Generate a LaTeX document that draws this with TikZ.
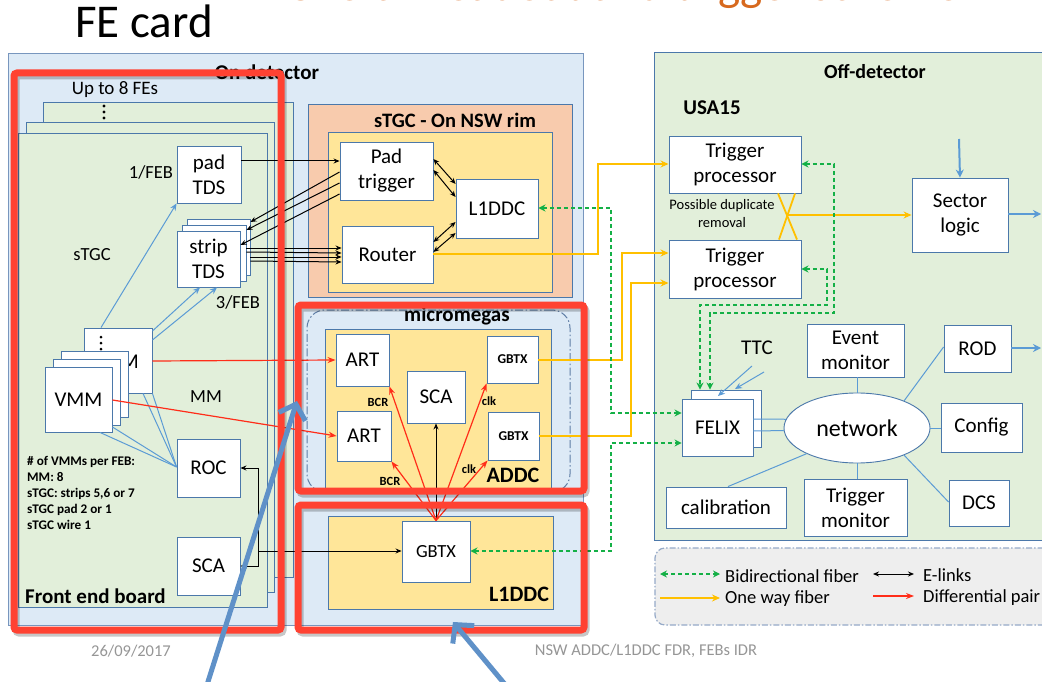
\documentclass[tikz,border=0pt]{standalone}
\usepackage{fontspec}
\setmainfont{Carlito}
\usetikzlibrary{arrows.meta,shapes.geometric,calc}
\definecolor{onbg}{RGB}{221,234,246}
\definecolor{onb}{RGB}{120,150,190}
\definecolor{grbg}{RGB}{226,239,218}
\definecolor{boxb}{RGB}{75,120,170}
\definecolor{salmon}{RGB}{248,203,173}
\definecolor{ybox}{RGB}{255,230,153}
\definecolor{yel}{RGB}{255,192,0}
\definecolor{grn}{RGB}{20,176,70}
\definecolor{dred}{RGB}{255,45,25}
\definecolor{rframe}{RGB}{255,66,50}
\definecolor{lblue}{RGB}{91,155,213}
\definecolor{barrow}{RGB}{95,145,200}
\definecolor{lgf}{RGB}{238,238,238}
\definecolor{lgb}{RGB}{150,170,200}
\definecolor{mmb}{RGB}{95,125,165}
\definecolor{orng}{RGB}{215,105,30}
\definecolor{foot}{RGB}{150,150,150}
\newcommand\fsz[2]{\fontsize{#1}{#2}\selectfont}
\newcommand\bx[7][]{\node[#2,minimum width={#5-#3},minimum height={#6-#4},#1] (#7) at ({(#3+#5)/2},{(#4+#6)/2})}
\tikzset{
  wbox/.style={draw=boxb, fill=white, line width=0.9pt, inner sep=0pt, align=center, font=\fsz{21}{25}},
  region/.style={draw=boxb, line width=0.8pt, inner sep=0pt},
  txt/.style={inner sep=0pt, align=center},
  elink/.style={draw=black, line width=1pt, -{Stealth[length=6pt,width=5pt]}},
  elinkb/.style={draw=black, line width=1pt, {Stealth[length=6pt,width=5pt]}-{Stealth[length=6pt,width=5pt]}},
  dpair/.style={draw=dred, line width=1.2pt, -{Stealth[length=8pt,width=6pt]}},
  yfib/.style={draw=yel, line width=1.8pt, -{Stealth[length=8pt,width=7pt]}},
  yline/.style={draw=yel, line width=1.8pt},
  gfib/.style={draw=grn, line width=1.6pt, dash pattern=on 4pt off 3pt, {Stealth[length=7pt,width=7pt]}-{Stealth[length=7pt,width=7pt]}},
  thinb/.style={draw=lblue, line width=1pt},
  thinba/.style={thinb, -{Stealth[length=7pt,width=6pt]}},
  blarrow/.style={draw=lblue, line width=2pt, -{Stealth[length=8pt,width=8pt]}},
  redframe/.style={draw=rframe, line width=7pt, rounded corners=3pt},
  shadowframe/.style={draw=black, opacity=0.22, line width=7pt, rounded corners=3pt},
  bigarrow/.style={draw=barrow, line width=5pt, -{Straight Barb[length=13pt,width=28pt]}},
  mmframe/.style={draw=mmb, line width=1pt, dash pattern=on 8pt off 2.5pt on 1.5pt off 2.5pt, rounded corners=18pt, inner sep=0pt},
  legendbox/.style={draw=lgb, fill=lgf, line width=1.2pt, dash pattern=on 6pt off 2pt on 1.5pt off 2pt, rounded corners=10pt, inner sep=0pt},
}
\begin{document}
\begin{tikzpicture}[x=1pt,y=-1pt]
\useasboundingbox (0,0) rectangle (1042,682);
\fill[white] (0,0) rectangle (1042,682);

% ---------- titles ----------
\node[anchor=base west, font=\fsz{47}{50}, text=orng, inner sep=0pt] (title) at (285,1) {Overall readout and trigger scheme};
\node[anchor=base west, font=\fsz{47}{50}, inner sep=0pt] (fecard) at (75,38) {FE card};

% ---------- backgrounds ----------
\bx{region,fill=onbg,draw=onb}{8}{53}{583}{625}{ondet}{};
\bx{region,fill=grbg}{654}{52}{1060}{540}{offdet}{};
\bx{legendbox}{655}{548}{1065}{625}{legend}{};
\node[txt,font=\bfseries\fsz{21}{24}] (ondetlbl) at (267,72) {On detector};
\node[txt,font=\bfseries\fsz{20}{24}] (offlbl) at (875,72) {Off-detector};
\node[txt,font=\bfseries\fsz{21}{24}] (usa) at (712,108) {USA15};

% ---------- FE boards ----------
\node[txt,font=\fsz{19}{22}] (upto) at (115,90) {Up to 8 FEs};
\bx{region,fill=grbg}{43}{102}{293}{577}{feb3}{};
\foreach \yy in {106,112,118} \fill (104,\yy) circle[radius=1.6pt];
\bx{region,fill=grbg}{26}{122}{274}{592}{feb2}{};
\bx{region,fill=grbg}{18}{133}{267}{607}{feb1}{};

\node[txt,font=\fsz{18.5}{20}] (onefeb) at (151,172) {1/FEB};
\bx{wbox}{177}{146}{241}{203}{padtds}{pad\\TDS};
\bx{wbox}{187}{219}{250}{275}{strip3}{};
\bx{wbox}{182}{225}{246}{281}{strip2}{};
\bx{wbox}{177}{231}{240}{287}{strip1}{strip\\TDS};
\node[txt,font=\fsz{18.5}{20}] (stgclbl) at (92,255) {sTGC};
\node[txt,font=\fsz{18.5}{20}] (threefeb) at (238,302) {3/FEB};

\bx{wbox}{84}{328}{152}{393}{vmmS}{};
\node[txt,font=\fsz{21}{24}] (vmmStxt) at (115,362) {VMM};
\foreach \yy in {337,343,349} \fill (101,\yy) circle[radius=1.5pt];
\bx{wbox}{61}{351}{128}{417}{vmmB}{};
\bx{wbox}{53}{359}{120}{425}{vmmA}{};
\bx{wbox}{45}{367}{112}{432}{vmm1}{VMM};
\node[txt,font=\fsz{18.5}{20}] (mmlbl2) at (206,397) {MM};
\bx{wbox}{177}{439}{240}{497}{roc}{ROC};
\bx{wbox}{177}{537}{240}{595}{sca1}{SCA};
\node[anchor=north west, align=left, inner sep=0pt, font=\bfseries\fsz{13.2}{16}] (vmmnote) at (27,456) {\# of VMMs per FEB:\\MM: 8\\sTGC: strips 5,6 or 7\\sTGC pad 2 or 1\\sTGC wire 1};
\node[anchor=west, inner sep=0pt, font=\bfseries\fsz{21}{24}] (feblbl) at (25,596) {Front end board};

% ---------- sTGC rim ----------
\bx{region,fill=salmon}{308}{104}{572}{297}{rim}{};
\node[txt,font=\bfseries\fsz{20.5}{24}] (rimlbl) at (455,120) {sTGC - On NSW rim};
\bx{region,fill=ybox}{328}{132}{552}{292}{rimy}{};
\bx{wbox}{340}{142}{433}{200}{padtrig}{Pad\\trigger};
\bx{wbox}{342}{226}{433}{283}{router}{Router};
\bx{wbox}{456}{179}{538}{238}{l1a}{L1DDC};

% ---------- micromegas ----------
\bx{mmframe}{307}{310}{570}{492}{mmf}{};
\node[txt,font=\bfseries\fsz{21}{24}] (mmlbl) at (457,316) {micromegas};
\bx{region,fill=ybox}{325}{329}{551}{489}{addc}{};
\bx{wbox}{336}{334}{389}{386}{art1}{ART};
\bx{wbox}{337}{411}{391}{461}{art2}{ART};
\bx{wbox}{407}{371}{465}{423}{sca2}{SCA};
\bx{wbox,font=\bfseries\fsz{13.5}{15}}{487}{336}{538}{383}{gbtx1}{GBTX};
\bx{wbox,font=\bfseries\fsz{13.5}{15}}{488}{412}{539}{460}{gbtx2}{GBTX};
\node[txt,font=\bfseries\fsz{22}{24}] (addclbl) at (513,475) {ADDC};
\node[txt,font=\bfseries\fsz{12.5}{14}] (bcr1) at (378,402) {BCR};
\node[txt,font=\bfseries\fsz{12.5}{14}] (bcr2) at (390,481) {BCR};
\node[txt,font=\bfseries\fsz{12.5}{14}] (clk1) at (489,401) {clk};
\node[txt,font=\bfseries\fsz{12.5}{14}] (clk2) at (469,469) {clk};

% ---------- L1DDC ----------
\bx{region,fill=ybox}{328}{516}{553}{609}{l1y}{};
\bx{wbox,font=\fsz{18.5}{20}}{402}{521}{470}{582}{gbtx3}{GBTX};
\node[txt,font=\bfseries\fsz{22}{24}] (l1lbl) at (519,594) {L1DDC};

% ---------- off detector ----------
\bx{wbox}{669}{136}{801}{193}{tp1}{Trigger\\processor};
\bx{wbox}{669}{240}{801}{298}{tp2}{Trigger\\processor};
\bx{wbox}{912}{178}{1008}{252}{sector}{Sector\\logic};
\node[txt,font=\fsz{14.5}{18}] (dup) at (722,214) {Possible duplicate\\removal};
\node[txt,font=\fsz{21}{24}] (ttc) at (757,348) {TTC};

\bx{wbox}{691}{390}{761}{447}{felixb}{};
\bx{wbox}{682}{399}{753}{456}{felix}{FELIX};
\node[draw=boxb, fill=white, line width=0.9pt, ellipse, minimum width=146pt, minimum height=70pt, inner sep=0pt, font=\fsz{24}{26}] (net) at (857,428) {network};
\bx{wbox}{807}{324}{904}{377}{evmon}{Event\\monitor};
\bx{wbox}{944}{325}{1011}{372}{rod}{ROD};
\bx{wbox}{941}{403}{1022}{452}{config}{Config};
\bx{wbox}{949}{480}{1009}{526}{dcs}{DCS};
\bx{wbox}{804}{479}{907}{536}{trigmon}{Trigger\\monitor};
\bx{wbox}{666}{487}{786}{528}{calib}{calibration};

\draw[thinb] (felix.east |- 0,419) -- (net.173);
\draw[thinb] (felix.east |- 0,431) -- (net.182);
\draw[thinb] (net.north) -- (net.north |- evmon.south);
\draw[thinb] (net.south) -- (net.south |- trigmon.north);
\draw[thinb] (net.30) -- (rod.west |- 0,347);
\draw[thinb] (net.east) -- (config.west |- net.east);
\draw[thinb] (net.-30) -- (dcs.west |- 0,502);
\draw[thinb] (net.207) -- (728,0 |- calib.north);
\coordinate (ttc1) at (752,366);
\coordinate (ttc2) at (764,372);
\draw[thinba] (ttc1) -- (718,396);
\draw[thinba] (ttc2) -- (735,389);
\coordinate (slin) at (959,139);
\draw[blarrow] (slin) -- (sector.north);
\coordinate (slout) at (1041,214);
\draw[blarrow] (sector.east |- slout) -- (slout);
\coordinate (rodout) at (1041,348);
\draw[blarrow] (rod.east |- rodout) -- (rodout);

% ---------- legend ----------
\draw[gfib] (660,574) -- (720,574);
\node[anchor=west, inner sep=0pt, font=\fsz{18.5}{20}] (lg1) at (725,576) {Bidirectional fiber};
\draw[yfib] (660,598) -- (720,598);
\node[anchor=west, inner sep=0pt, font=\fsz{18.5}{20}] (lg2) at (725,599) {One way fiber};
\draw[elinkb] (873,574) -- (914,574);
\node[anchor=west, inner sep=0pt, font=\fsz{18.5}{20}] (lg3) at (923,575) {E-links};
\draw[dpair] (873,596) -- (914,596);
\node[anchor=west, inner sep=0pt, font=\fsz{18.5}{20}] (lg4) at (923,598) {Differential pair};

% ---------- connectors: FE blue ----------
\draw[thinba] (101,0 |- vmmS.north) -- (padtds.south west);
\draw[thinba] (vmmS.east |- 0,331) -- (200,0 |- strip1.south);
\draw[thinba] (vmmS.east |- 0,340) -- (217,0 |- strip1.south);
\draw[thinb] (100,0 |- vmm1.south) -- (roc.west |- 0,467);
\draw[thinb] (vmm1.east |- 0,427) -- (roc.west |- 0,467);
\draw[thinb] (143,0 |- vmmS.south) -- (roc.west |- 0,467);
\draw[thinb] (vmmS.south east) -- (roc.west |- 0,467);

% ---------- E-links ----------
\draw[elink] (padtds.east |- 0,161) -- (padtrig.west |- 0,161);
\draw[elink] (padtrig.west |- 0,172) -- (strip3.east |- 0,222);
\draw[elink] (padtrig.west |- 0,183) -- (strip2.east |- 0,230);
\draw[elink] (padtrig.west |- 0,194) -- (strip1.east |- 0,245);
\draw[elink] (strip2.east |- 0,248) -- (router.west |- 0,248);
\draw[elink] (strip2.east |- 0,252) -- (router.west |- 0,253);
\draw[elink] (strip3.east |- 0,257) -- (router.west |- 0,257);
\draw[elink] (strip3.east |- 0,261) -- (router.west |- 0,262);
\draw[elinkb] (padtrig.east |- 0,159) -- (l1a.west |- 0,184);
\draw[elinkb] (padtrig.east |- 0,170) -- (l1a.west |- 0,197);
\draw[elinkb] (router.east |- 0,242) -- (l1a.west |- 0,222);
\draw[elinkb] (router.east |- 0,252) -- (l1a.west |- 0,233);
\coordinate (ej) at (258,551);
\draw[elink] (ej) -- (gbtx3.west |- ej);
\draw[elink] (ej) |- (roc.east |- 0,468);
\draw[elink] (ej) |- (sca1.east |- 0,566);
\draw[elink] (gbtx3.north) -- (sca2.south);

% ---------- differential pairs ----------
\draw[dpair] (vmmS.east |- 0,361) -- (art1.west |- 0,360);
\draw[dpair] (vmm1.east |- 0,400) -- (art2.west |- 0,436);
\draw[dpair] (gbtx3.north) -- (art1.south east);
\draw[dpair] (gbtx3.north) -- (art2.south east);
\draw[dpair] (gbtx3.north) -- (gbtx1.south west);
\draw[dpair] (gbtx3.north) -- (gbtx2.south west);

% ---------- one way fibers ----------
\draw[yfib] (router.east |- 0,254) -- (598,254) -- (598,164) -- (tp1.west |- 0,164);
\draw[yfib] (gbtx1.east |- 0,360) -- (622,360) -- (622,253) -- (tp2.west |- 0,253);
\draw[yfib] (gbtx2.east |- 0,436) -- (631,436) -- (631,283) -- (tp2.west |- 0,283);
\draw[yline] (778,0 |- tp1.south) -- (797,0 |- tp2.north);
\draw[yline] (795,0 |- tp1.south) -- (779,0 |- tp2.north);
\coordinate (xcross) at (787,215);
\draw[yfib] (xcross) -- (sector.west |- xcross);

% ---------- bidirectional fibers ----------
\draw[gfib] (l1a.east |- 0,208) -- (611,208) -- (611,413) -- (felix.west |- 0,413);
\draw[gfib] (gbtx3.east |- 0,551) -- (611,551) -- (611,443) -- (felix.west |- 0,443);
\draw[gfib] (tp1.east |- 0,164) -- (834,164) -- (834,313) -- (710,313) -- (710,0 |- felixb.north);
\draw[gfib] (tp2.east |- 0,269) -- (827,269) -- (827,305) -- (700,305) -- (700,0 |- felixb.north);

% ---------- red frames ----------
\foreach \a/\b/\c/\d in {14/73/281/630, 298/305/584/491, 298/505/584/630} {
  \draw[shadowframe] (\a+2,\b+3) rectangle (\c+2,\d+3);
  \draw[redframe] (\a,\b) rectangle (\c,\d);
}

% ---------- footer ----------
\node[txt,font=\fsz{16.5}{18},text=foot] (date) at (131,651) {26/09/2017};
\node[txt,font=\fsz{16.5}{18},text=foot] (foottxt) at (646,651) {NSW ADDC/L1DDC FDR, FEBs IDR};

% ---------- annotation arrows ----------
\coordinate (ba1s) at (206,688);
\coordinate (ba1e) at (297,401);
\draw[bigarrow] (ba1s) -- (ba1e);
\coordinate (ba2s) at (508,688);
\coordinate (ba2e) at (453,622);
\draw[bigarrow] (ba2s) -- (ba2e);
\end{tikzpicture}
\end{document}
